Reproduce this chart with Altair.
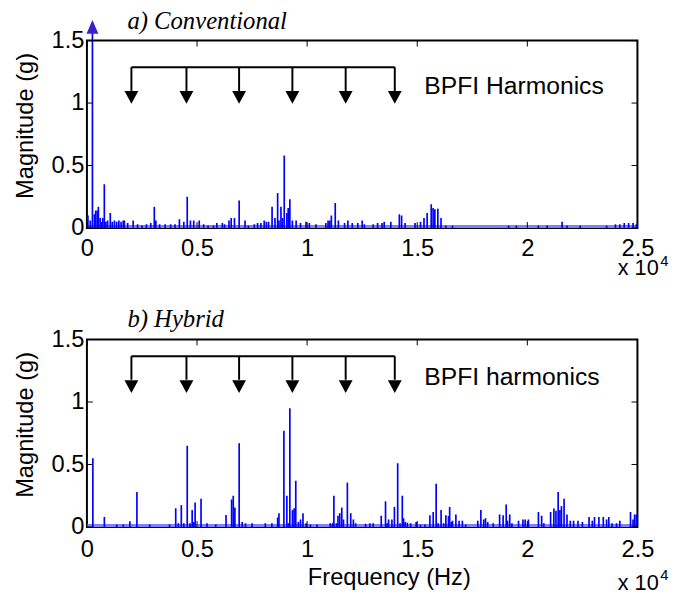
import altair as alt
import pandas as pd

# ---------------- data ----------------
a_freq = [45, 150, 250, 340, 400, 470, 520, 600, 680, 720, 790, 860, 940, 1060,
          1150, 1250, 1350, 1450, 1550, 1650, 1700, 1850, 2100, 2300, 2500, 2700, 2900,
          3060, 3130, 3300, 3550, 3800, 4000, 4200, 4400, 4555, 4700, 4850, 5100, 5300,
          5500, 5750, 5900, 6150, 6250, 6450, 6550, 6700, 6913, 7180, 7330, 7600, 7750,
          7900, 8050, 8150, 8250, 8408, 8540, 8661, 8720, 8811, 8880, 8960, 9080, 9140,
          9215, 9330, 9500, 9700, 9950, 10100, 10400, 10850, 10950, 11030, 11100, 11276,
          11420, 11700, 11850, 12050, 12300, 12500, 12600, 13000, 13200, 13400, 13500,
          13800, 14187, 14290, 14450, 14900, 15150, 15307, 15450, 15635, 15720, 15800,
          15935, 16080, 16300, 16600, 19150, 19500, 20500, 20900, 21578, 21800, 22400,
          23600, 24000, 24200, 24400, 24600, 24800, 24950]
a_mag = [0.10, 0.06, 1.56, 0.11, 0.14, 0.14, 0.17, 0.08, 0.05, 0.08, 0.35, 0.05, 0.06, 0.12,
         0.05, 0.06, 0.05, 0.06, 0.05, 0.06, 0.06, 0.04, 0.06, 0.03, 0.02, 0.03, 0.04,
         0.17, 0.06, 0.03, 0.03, 0.03, 0.03, 0.07, 0.05, 0.25, 0.06, 0.06, 0.06, 0.03,
         0.02, 0.02, 0.04, 0.04, 0.03, 0.06, 0.08, 0.08, 0.22, 0.06, 0.02, 0.03, 0.04,
         0.04, 0.06, 0.05, 0.05, 0.17, 0.08, 0.28, 0.06, 0.17, 0.08, 0.58, 0.12, 0.16,
         0.23, 0.06, 0.06, 0.04, 0.05, 0.04, 0.03, 0.04, 0.06, 0.06, 0.10, 0.20,
         0.06, 0.04, 0.06, 0.04, 0.04, 0.06, 0.03, 0.03, 0.04, 0.04, 0.05,
         0.05, 0.11, 0.10, 0.04, 0.04, 0.05, 0.08, 0.12, 0.19, 0.16, 0.15,
         0.155, 0.08, 0.02, 0.02, 0.02, 0.02, 0.02, 0.02, 0.05, 0.02, 0.02,
         0.02, 0.03, 0.03, 0.04, 0.04, 0.04, 0.03]

b_freq = [269, 792, 1350, 1650, 1950, 2270, 2850, 3750, 4032, 4150, 4286, 4400, 4555, 4680,
          4779, 4850, 4913, 5182, 5450, 5850, 6317, 6570, 6645, 6720, 6913, 7050, 7200,
          7500, 8100, 8400, 8661, 8720, 8945, 9079, 9150, 9215, 9334, 9408, 9484, 9600,
          9700, 9811, 9950, 10150, 10450, 11050, 11150, 11215, 11330, 11400, 11480, 11573,
          11650, 11827, 11980, 12100, 12200, 12650, 12850, 13000, 13365, 13560, 13630,
          13700, 13850, 13963, 14112, 14220, 14322, 14380, 14450, 14550, 14700, 14950,
          15150, 15350, 15576, 15725, 15859, 15950, 16083, 16200, 16300, 16420, 16472,
          16550, 16600, 16755, 16900, 17050, 17200, 17750, 17890, 18020, 18100, 18200,
          18450, 18741, 18900, 19040, 19100, 19200, 19300, 19600, 19800, 19900, 20050,
          20503, 20650, 20750, 21056, 21205, 21300, 21400, 21480, 21549, 21668, 21800,
          21950, 22100, 22300, 22500, 22803, 22950, 23050, 23250, 23450, 23600, 23700,
          23850, 24050, 24200, 24685, 24800, 24870, 24950]
b_mag = [0.55, 0.08, 0.02, 0.02, 0.045, 0.28, 0.02, 0.02, 0.15, 0.03, 0.175, 0.03, 0.65, 0.03,
         0.135, 0.04, 0.195, 0.225, 0.03, 0.02, 0.095, 0.22, 0.25, 0.155, 0.67, 0.04, 0.03,
         0.03, 0.03, 0.03, 0.076, 0.11, 0.77, 0.25, 0.03, 0.95, 0.135, 0.15, 0.37, 0.04,
         0.06, 0.11, 0.03, 0.02, 0.02, 0.03, 0.03, 0.25, 0.03, 0.09, 0.11, 0.155,
         0.06, 0.355, 0.11, 0.06, 0.03, 0.025, 0.03, 0.03, 0.09, 0.205, 0.03,
         0.06, 0.06, 0.16, 0.51, 0.03, 0.25, 0.07, 0.04, 0.035, 0.03, 0.04,
         0.02, 0.02, 0.094, 0.12, 0.345, 0.03, 0.135, 0.03, 0.094, 0.087, 0.16,
         0.04, 0.05, 0.10, 0.05, 0.05, 0.02, 0.05, 0.135, 0.06, 0.07, 0.04,
         0.03, 0.10, 0.094, 0.18, 0.05, 0.10, 0.03, 0.05, 0.06, 0.06, 0.06,
         0.12, 0.09, 0.03, 0.12, 0.147, 0.13, 0.28, 0.135, 0.167, 0.225, 0.10,
         0.05, 0.05, 0.05, 0.04, 0.08, 0.05, 0.08, 0.08, 0.08, 0.06, 0.08,
         0.03, 0.03, 0.05, 0.12, 0.06, 0.10, 0.10]

harm_freq = [2020, 4520, 6910, 9330, 11750, 13980]
x_ticks = [0, 5000, 10000, 15000, 20000, 25000]
y_ticks = [0, 0.5, 1, 1.5]
noise_floor = 0.012

W, H = 558, 190
BLUE = "#0000ff"
SANS = "Liberation Sans"
SERIF = "Liberation Serif"
TRI_DOWN = "M-1,-0.93L1,-0.93L0,0.93Z"
TRI_UP = "M0,-1L0.86,1L-0.86,1Z"


def panel(freq, mag, title, note, bar_y, head_top, head_y, note_y, title_dy,
          bottom, over_f=None, over_y=None):
    spikes = pd.DataFrame({"f": freq, "m": mag})
    xscale = alt.Scale(domain=[0, 25000], nice=False, zero=False)
    yscale = alt.Scale(domain=[0, 1.5], nice=False)
    xkw = dict(values=x_ticks, labelExpr="datum.value / 10000",
               labelPadding=9 if not bottom else 11, labelFlush=False)
    if bottom:
        xaxis = alt.Axis(title="Frequency (Hz)", titleX=306, titleY=51,
                         titleBaseline="middle", titleAlign="center", **xkw)
    else:
        xaxis = alt.Axis(title="", **xkw)
    yaxis = alt.Axis(values=y_ticks, format="~g", labelPadding=3, title="Magnitude (g)",
                     titleX=-62, titleY=H / 2 - 9, titleBaseline="middle",
                     titleAlign="center", titleAngle=-90)

    def X(field):
        return alt.X(field, scale=xscale, axis=xaxis)

    def Y(field):
        return alt.Y(field, scale=yscale, axis=yaxis)

    floor = alt.Chart(pd.DataFrame({"m": [noise_floor]})).mark_rule(
        color="#8080ff", strokeWidth=3).encode(
        y=Y("m:Q"), x=alt.value(0), x2=alt.value(W))

    lines = alt.Chart(spikes).mark_rule(color=BLUE, strokeWidth=1.7).encode(
        x=X("f:Q"), y=Y("m:Q"), y2=alt.datum(0))

    hd = pd.DataFrame({"f": harm_freq})
    bar = alt.Chart(pd.DataFrame({"f": [harm_freq[0]], "f2": [harm_freq[-1]]})).mark_rule(
        color="black", strokeWidth=2).encode(
        x=X("f:Q"), x2="f2:Q", y=alt.datum(bar_y))
    stems = alt.Chart(hd).mark_rule(color="black", strokeWidth=2).encode(
        x=X("f:Q"), y=alt.datum(bar_y), y2=alt.datum(head_top))
    heads = alt.Chart(hd).mark_point(shape=TRI_DOWN, size=196, filled=True,
                                     color="black", opacity=1).encode(
        x=X("f:Q"), y=alt.datum(head_y))
    label = alt.Chart(pd.DataFrame({"t": [note]})).mark_text(
        align="left", baseline="middle", font=SANS, fontSize=25, color="black").encode(
        x=alt.datum(15320), y=alt.datum(note_y), text="t:N")

    ttl = alt.Chart(pd.DataFrame({"t": [title]})).mark_text(
        align="left", baseline="alphabetic", font=SERIF, fontStyle="italic",
        fontSize=25, color="black").encode(
        x=alt.value(41), y=alt.value(title_dy), text="t:N")

    xt = pd.DataFrame({"f": x_ticks})
    yt = pd.DataFrame({"m": y_ticks})
    tb = alt.Chart(xt).mark_rule(color="black", strokeWidth=1).encode(
        x=X("f:Q"), y=alt.value(H), y2=alt.value(H - 6))
    tt = alt.Chart(xt).mark_rule(color="black", strokeWidth=1).encode(
        x=X("f:Q"), y=alt.value(0), y2=alt.value(6))
    tl = alt.Chart(yt).mark_rule(color="black", strokeWidth=1).encode(
        y=Y("m:Q"), x=alt.value(0), x2=alt.value(6))
    tr = alt.Chart(yt).mark_rule(color="black", strokeWidth=1).encode(
        y=Y("m:Q"), x=alt.value(W), x2=alt.value(W - 6))

    exp_y = H + (57 if bottom else 41)
    e1 = alt.Chart(pd.DataFrame({"t": ["x 10"]})).mark_text(
        align="left", baseline="middle", font=SANS, fontSize=22, color="black").encode(
        x=alt.value(538), y=alt.value(exp_y), text="t:N")
    e2 = alt.Chart(pd.DataFrame({"t": ["4"]})).mark_text(
        align="left", baseline="middle", font=SANS, fontSize=15, color="black").encode(
        x=alt.value(581), y=alt.value(exp_y - 8), text="t:N")

    layers = [floor, lines, bar, stems, heads, label, ttl, tb, tt, tl, tr, e1, e2]
    if over_f is not None:
        up = alt.Chart(pd.DataFrame({"f": [over_f]})).mark_point(
            shape=TRI_UP, size=196, filled=True, color="#3a1fcc", opacity=1,
            clip=False).encode(
            x=X("f:Q"), y=alt.datum(over_y))
        layers.append(up)
    return alt.layer(*layers).properties(width=W, height=H)


top = panel(a_freq, a_mag, "a) Conventional", "BPFI Harmonics",
            1.287, 1.097, 1.046, 1.137, -12, False, over_f=250, over_y=1.61)
bot = panel(b_freq, b_mag, "b) Hybrid", "BPFI harmonics",
            1.366, 1.178, 1.123, 1.20, -13, True)

chart = alt.vconcat(top, bot, spacing=26).properties(
    padding={"left": 4, "top": -4, "right": 0, "bottom": 0}
).configure_axis(
    labelFont=SANS, titleFont=SANS, labelFontSize=24, titleFontSize=24,
    labelColor="black", titleColor="black", titleFontWeight="normal",
    domain=False, ticks=False, grid=False
).configure_view(stroke="black", strokeWidth=2)

chart.save("out.html", embed_options={"renderer": "svg", "actions": False})
